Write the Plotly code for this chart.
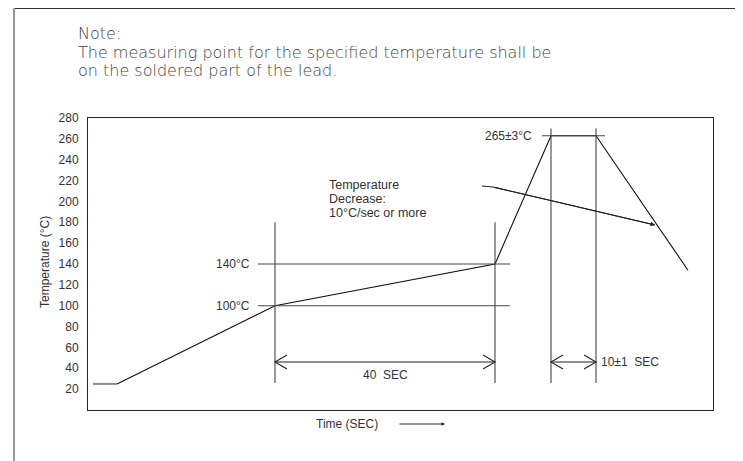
import plotly.graph_objects as go

# ---- data (schematic time units, temperatures in deg C) ----
profile_time = [1, 5.8, 37.4, 81.4, 92.6, 101.6, 120]
profile_temp = [25, 25, 100, 140, 263, 263, 134]

yticks = [20, 40, 60, 80, 100, 120, 140, 160, 180, 200, 220, 240, 260, 280]

preheat_temps = [100, 140]
preheat_labels = ["100°C", "140°C"]
preheat_span = [34, 84.4]          # extent of the horizontal reference lines
preheat_times = [37.4, 81.4]       # start / end of 40 s preheat
peak_times = [92.6, 101.6]         # start / end of 10 s peak
peak_temp = 263
peak_span = [90.8, 103.4]
peak_label = "265±3°C"
dim_level = 46                     # temperature level of the dimension arrows
vert_low = 26
vert_high_pre = 180
vert_high_peak = 270

callout_x = [78.8, 81.0, 113.4]
callout_y = [214.8, 213.8, 177.4]
callout_lines = ["Temperature", "Decrease:", "10°C/sec or more"]

note_lines = ["Note:",
              "The measuring point for the specified temperature shall be",
              "on the soldered part of the lead."]

# ---- geometry (page is offset by the 8px body margin) ----
OFF = 8
PW, PH = 743, 461
pl, pt, pr, pb = 88, 118, 713, 410      # plot area in page pixels
W, H = PW - OFF, PH - OFF
L, T = pl - OFF, pt - OFF
R, B = W - (pr - OFF), H - (pb - OFF)
XR = [0, 125]
YR = [0, 280]
pw = pr - pl
ph = pb - pt
px_x = pw / (XR[1] - XR[0])
px_y = ph / (YR[1] - YR[0])

def paper_x(px):
    return (px - pl) / pw

def paper_y(py):
    return (pb - py) / ph

fig = go.Figure()

line_col = "#444"
tfont = dict(family="Liberation Sans, Arial", size=12, color="#333")

# profile
fig.add_trace(go.Scatter(x=profile_time[:2], y=profile_temp[:2], mode="lines",
                         line=dict(color="#8a8a8a", width=2), hoverinfo="skip"))
fig.add_trace(go.Scatter(x=profile_time[1:], y=profile_temp[1:], mode="lines",
                         line=dict(color="#111", width=1.1), hoverinfo="skip"))

def seg(xs, ys, col=line_col, w=1.1):
    fig.add_trace(go.Scatter(x=xs, y=ys, mode="lines", line=dict(color=col, width=w),
                             hoverinfo="skip"))

for tmp in preheat_temps:
    seg(preheat_span, [tmp, tmp])
seg(peak_span, [peak_temp, peak_temp])
for t in preheat_times:
    seg([t, t], [vert_low, vert_high_pre])
for t in peak_times:
    seg([t, t], [vert_low, vert_high_peak])

# dimension lines with open V heads
hx = 12 / px_x
hy = 7 / px_y
def dim(a, b, y):
    seg([a, b], [y, y], col="#222", w=1.1)
    seg([a + hx, a, a + hx], [y + hy, y, y - hy], col="#222", w=1.1)
    seg([b - hx, b, b - hx], [y + hy, y, y - hy], col="#222", w=1.1)

dim(preheat_times[0], preheat_times[1], dim_level)
dim(peak_times[0], peak_times[1], dim_level)

# callout leader
seg(callout_x, callout_y, col="#222", w=1.1)

ann = []
for tmp, lab in zip(preheat_temps, preheat_labels):
    ann.append(dict(x=preheat_span[0] - 1.2, y=tmp, xref="x", yref="y", text=lab,
                    showarrow=False, xanchor="right", yanchor="middle", font=tfont))
ann.append(dict(x=peak_span[0] - 1.7, y=peak_temp, xref="x", yref="y", text=peak_label,
                showarrow=False, xanchor="right", yanchor="middle", font=tfont))
ann.append(dict(x=(preheat_times[0] + preheat_times[1]) / 2, y=dim_level - 12.5,
                xref="x", yref="y", text="40  SEC", showarrow=False,
                xanchor="center", yanchor="middle", font=tfont))
ann.append(dict(x=peak_times[1] + 0.6, y=dim_level, xref="x", yref="y", text="10±1  SEC",
                showarrow=False, xanchor="left", yanchor="middle", font=tfont))
for i, line in enumerate(callout_lines):
    ann.append(dict(x=paper_x(327), y=paper_y(185 + 14 * i), xref="paper", yref="paper",
                    text=line, showarrow=False, xanchor="left", yanchor="middle",
                    font=dict(family="Liberation Sans, Arial", size=12.5, color="#333")))
# small arrowhead at end of leader
ann.append(dict(x=callout_x[2], y=callout_y[2], ax=callout_x[1], ay=callout_y[1],
                xref="x", yref="y", axref="x", ayref="y", text="", showarrow=True,
                arrowhead=2, arrowsize=0.8, arrowwidth=1.1, arrowcolor="#222"))

# axis titles
ann.append(dict(x=paper_x(45), y=paper_y(262), xref="paper", yref="paper",
                text="Temperature (°C)", textangle=-90, showarrow=False,
                xanchor="center", yanchor="middle", font=tfont))
ann.append(dict(x=paper_x(347), y=paper_y(424), xref="paper", yref="paper",
                text="Time (SEC)", showarrow=False, xanchor="center", yanchor="middle",
                font=tfont))
ann.append(dict(x=paper_x(445), y=paper_y(424), xref="paper", yref="paper",
                ax=-47, ay=0, text="", showarrow=True, arrowhead=2, arrowsize=0.6,
                arrowwidth=1.2, arrowcolor="#222"))

# note text
for i, line in enumerate(note_lines):
    ann.append(dict(x=paper_x(76), y=paper_y(34 + 18 * i), xref="paper",
                    yref="paper", text=line, showarrow=False, xanchor="left",
                    yanchor="middle",
                    font=dict(family="DejaVu Sans", size=16, color="#444", weight=300)))

shapes = [
    # page frame
    dict(type="line", xref="paper", yref="paper", x0=paper_x(14), x1=paper_x(745),
         y0=paper_y(8), y1=paper_y(8), line=dict(color="#333", width=2)),
    dict(type="line", xref="paper", yref="paper", x0=paper_x(14), x1=paper_x(14),
         y0=paper_y(8), y1=paper_y(470), line=dict(color="#999", width=2)),
]

fig.update_layout(
    width=W, height=H, margin=dict(l=L, r=R, t=T, b=B),
    paper_bgcolor="white", plot_bgcolor="white", showlegend=False,
    annotations=ann, shapes=shapes,
    xaxis=dict(range=XR, showticklabels=False, showgrid=False, zeroline=False,
               showline=True, linecolor="#222", linewidth=1, mirror=True, ticks=""),
    yaxis=dict(range=YR, tickvals=yticks, showgrid=False, zeroline=False,
               showline=True, linecolor="#222", linewidth=1, mirror=True, ticks="",
               ticklabelstandoff=6, tickfont=tfont),
)

fig.write_html("out.html")
